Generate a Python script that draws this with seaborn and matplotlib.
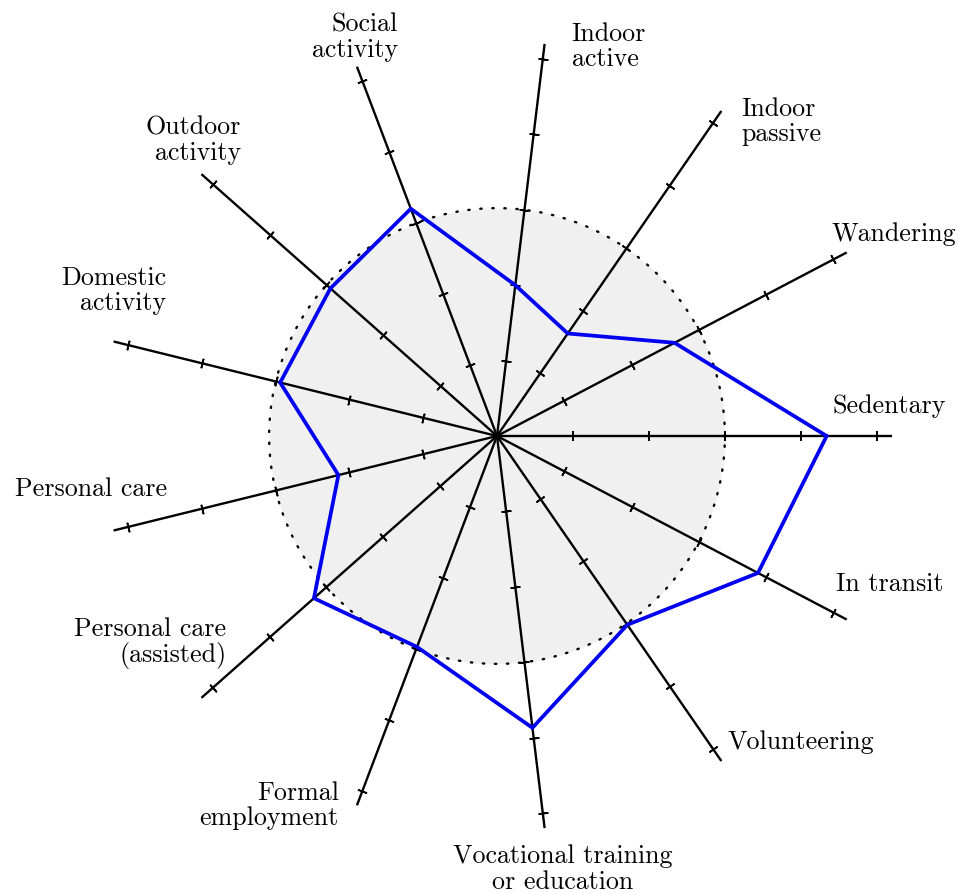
import numpy as np
import pandas as pd
import matplotlib
matplotlib.use("Agg")
import matplotlib.pyplot as plt
import seaborn as sns

# Data
categories = [
    "Sedentary", "Wandering", "Indoor\npassive", "Indoor\nactive",
    "Social\nactivity", "Outdoor\nactivity", "Domestic\nactivity",
    "Personal care", "Personal care\n(assisted)", "Formal\nemployment",
    "Vocational training\nor education", "Volunteering", "In transit",
]
values = [4.34, 2.64, 1.64, 2.0, 3.2, 2.93, 2.94, 2.15, 3.22, 2.97, 3.87, 3.02, 3.88]
tick_values = [1, 2, 3, 4, 5]
reference_level = 3
axis_max = 5.2

# label placement (offset in pixels from axis end, alignment)
label_offsets = [(-60, 30), (-15, 18), (20, -11), (27, -3), (41, 29), (40, 34),
                 (53, 51), (54, 41), (25, 55), (-18, 0), (18, -41), (6, 19), (-11, 35)]
label_align = ["left", "left", "left", "left", "right", "right", "right",
               "right", "right", "right", "center", "left", "left"]

sns.set_theme(style="white")
plt.rcParams["font.family"] = ["cmr10", "DejaVu Serif"]
plt.rcParams["axes.formatter.use_mathtext"] = True
plt.rcParams["text.color"] = "black"

n = len(categories)
angles = np.arange(n) * 2 * np.pi / n

fig = plt.figure(figsize=(9.59, 8.94), dpi=100)
ax = fig.add_axes([102 / 959, 63 / 894, 790 / 959, 790 / 894], projection="polar")
ax.set_theta_offset(0)
ax.set_theta_direction(1)
ax.set_ylim(0, axis_max)
ax.axis("off")

# shaded reference disc
circle_theta = np.linspace(0, 2 * np.pi, 400)
ax.fill_between(circle_theta, 0, reference_level, color="#f0f0f0", zorder=0, lw=0)
ax.plot(circle_theta, np.full_like(circle_theta, reference_level), color="black",
        lw=1.7, linestyle=(0, (0.6, 4.5)), dash_capstyle="round", zorder=1)

# spokes with tick marks
for a in angles:
    ax.plot([a, a], [0, axis_max], color="black", lw=1.7, zorder=2)
    ax.plot([a] * len(tick_values), tick_values, linestyle="none",
            marker=(2, 2, np.degrees(a)), markersize=7, markeredgewidth=1.2,
            color="black", zorder=2)

# data polygon
df = pd.DataFrame({"angle": np.append(angles, angles[0]),
                   "value": values + [values[0]]})
sns.lineplot(data=df, x="angle", y="value", sort=False, estimator=None,
             color="#0000f0", lw=2.7, ax=ax, zorder=3)
ax.axis("off")

# labels
for a, lab, off, ha in zip(angles, categories, label_offsets, label_align):
    ax.annotate(lab, xy=(a, axis_max), xytext=off, textcoords="offset pixels",
                ha=ha, va="center", fontsize=18.7, linespacing=1.08,
                color="black", annotation_clip=False, multialignment=ha)

plt.savefig("out.png", dpi=100)
